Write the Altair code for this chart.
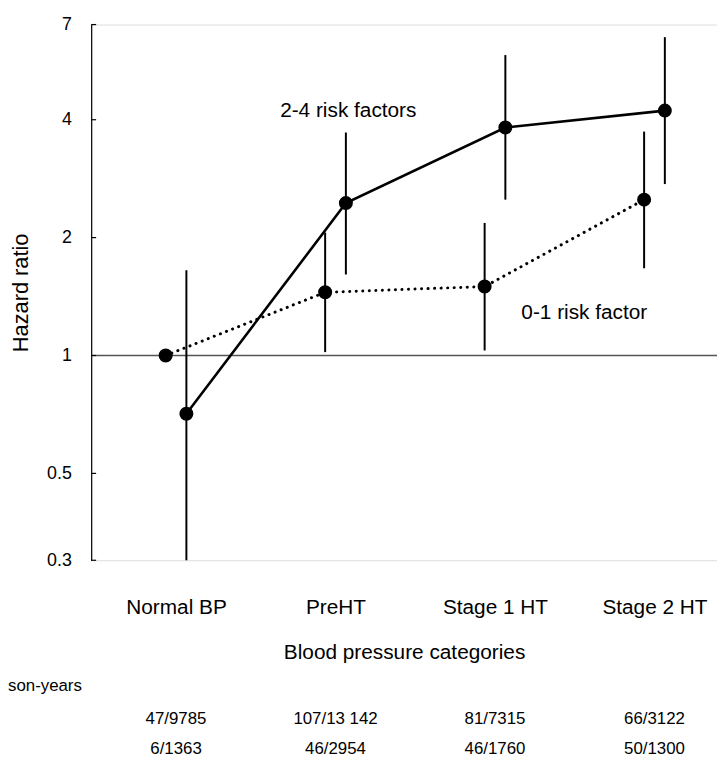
import altair as alt
import pandas as pd

# ---------------- data ----------------
categories = ["Normal BP", "PreHT", "Stage 1 HT", "Stage 2 HT"]
series_names = ["0-1 risk factor", "2-4 risk factors"]

hr_low_risk = [1.00, 1.45, 1.50, 2.50]
ci_lo_low_risk = [None, 1.02, 1.03, 1.67]
ci_hi_low_risk = [None, 2.06, 2.18, 3.73]

hr_high_risk = [0.71, 2.45, 3.82, 4.22]
ci_lo_high_risk = [0.30, 1.61, 2.50, 2.74]
ci_hi_high_risk = [1.65, 3.71, 5.85, 6.50]

events_low_risk = ["47/9785", "107/13 142", "81/7315", "66/3122"]
events_high_risk = ["6/1363", "46/2954", "46/1760", "50/1300"]
table_header = "son-years"

y_ticks = [0.3, 0.5, 1, 2, 4, 7]
reference_hr = [1]

# annotation anchors in data units (category index, hazard ratio)
annot_text = ["2-4 risk factors", "0-1 risk factor"]
annot_pos = [1.08, 2.56]
annot_hr = [4.22, 1.28]

# ---------------- tables ----------------
OFF = 0.065
rows = []
for i, c in enumerate(categories):
    rows.append(dict(pos=i - OFF, cat=c, series=series_names[0], hr=hr_low_risk[i],
                     lo=ci_lo_low_risk[i], hi=ci_hi_low_risk[i]))
    rows.append(dict(pos=i + OFF, cat=c, series=series_names[1], hr=hr_high_risk[i],
                     lo=ci_lo_high_risk[i], hi=ci_hi_high_risk[i]))
df = pd.DataFrame(rows)
df_low = df[df.series == series_names[0]]
df_high = df[df.series == series_names[1]]
df_ci = df.dropna(subset=["lo", "hi"])

df_ref = pd.DataFrame({"hr": reference_hr})
df_ticks = pd.DataFrame({"hr": y_ticks})
df_annot = pd.DataFrame({"pos": annot_pos, "hr": annot_hr, "text": annot_text})
df_t1 = pd.DataFrame({"pos": list(range(len(categories))), "text": events_low_risk})
df_t2 = pd.DataFrame({"pos": list(range(len(categories))), "text": events_high_risk})
df_head = pd.DataFrame({"text": [table_header]})

FONT = "Liberation Sans"
W, H = 632, 541

label_js = "[" + ",".join("'%s'" % c for c in categories) + "][datum.value]"

xscale = alt.Scale(domain=[-0.532, 3.392], nice=False, zero=False)
yscale = alt.Scale(type="log", domain=[0.3, 7], nice=False)

x_axis = alt.Axis(values=list(range(len(categories))), labelExpr=label_js,
                  domain=False, ticks=False, grid=False,
                  labelFontSize=21, labelColor="black", labelPadding=37, labelFont=FONT,
                  title="Blood pressure categories", titleFontSize=21,
                  titleFontWeight="normal", titleColor="black", titlePadding=24, titleFont=FONT)
y_axis = alt.Axis(values=y_ticks, format="~g", tickSize=0, grid=False,
                  labelFontSize=18, labelColor="black", labelPadding=20, labelFont=FONT,
                  domainColor="black", domainWidth=1.2,
                  title="Hazard ratio", titleFontSize=22, titleFontWeight="normal",
                  titleColor="black", titlePadding=14, titleFont=FONT)

X = alt.X("pos:Q", scale=xscale, axis=x_axis)
Y = alt.Y("hr:Q", scale=yscale, axis=y_axis)

ref = alt.Chart(df_ref).mark_rule(color="#555555", strokeWidth=1.5).encode(y=Y)

ticks = alt.Chart(df_ticks).mark_rule(color="black", strokeWidth=1.2).encode(
    y=Y, x=alt.value(0), x2=alt.value(5))

ci = alt.Chart(df_ci).mark_rule(color="black", strokeWidth=2).encode(
    x=X, y=alt.Y("lo:Q", scale=yscale), y2="hi:Q")

line_high = alt.Chart(df_high).mark_line(color="black", strokeWidth=2.6).encode(
    x=X, y=Y, order="pos:Q")
line_low = alt.Chart(df_low).mark_line(color="black", strokeWidth=3, strokeDash=[0.1, 6.5],
                                        strokeCap="round").encode(x=X, y=Y, order="pos:Q")

pts = alt.Chart(df).mark_circle(color="black", size=200, opacity=1).encode(x=X, y=Y)

annot = alt.Chart(df_annot).mark_text(font=FONT, fontSize=21, color="black",
                                      align="center", baseline="middle").encode(
    x=X, y=Y, text="text:N")

t1 = alt.Chart(df_t1).mark_text(font=FONT, fontSize=17, color="black", align="center",
                                baseline="middle").encode(x=X, y=alt.value(701), text="text:N")
t2 = alt.Chart(df_t2).mark_text(font=FONT, fontSize=17, color="black", align="center",
                                baseline="middle").encode(x=X, y=alt.value(732), text="text:N")
head = alt.Chart(df_head).mark_text(font=FONT, fontSize=17, color="black", align="left",
                                    baseline="middle").encode(
    x=alt.value(-84), y=alt.value(668), text="text:N")

chart = alt.layer(ref, ticks, ci, line_low, line_high, pts, annot, t1, t2, head).properties(
    width=W, height=H,
    autosize=alt.AutoSizeParams(type="none"),
    padding={"left": 84, "top": 13, "right": 0, "bottom": 198},
).configure_view(stroke=None).configure(font=FONT, background="white")

chart.save("out.html", embed_options={"renderer": "svg", "actions": False})
